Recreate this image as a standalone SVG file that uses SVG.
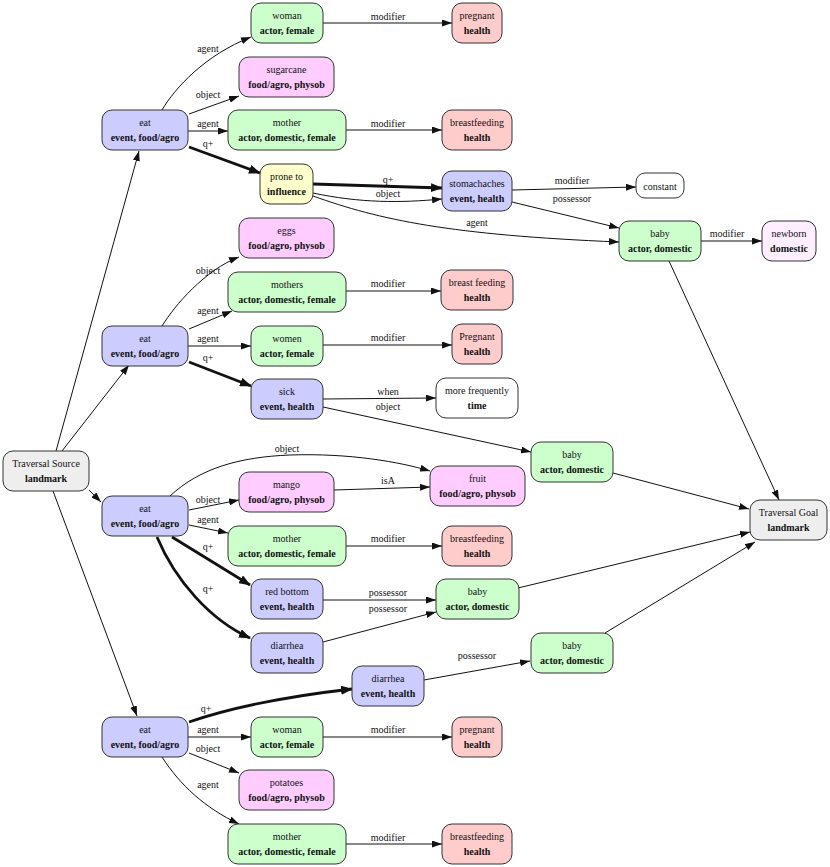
<svg xmlns="http://www.w3.org/2000/svg" width="830" height="867" viewBox="0 0 830 867" font-family="'Liberation Serif','Times New Roman',serif">
<style>
.n rect{stroke:#333;stroke-width:1}
.bl{fill:#ccccff}.gr{fill:#ccffcc}.mg{fill:#ffccff}.pk{fill:#ffcccc}.ye{fill:#ffffcc}.gy{fill:#eeeeee}.nb{fill:#ffeeff}.wh{fill:#ffffff}
text{font-family:"Liberation Serif","Times New Roman",serif;font-size:10px;text-anchor:middle;fill:#111}
.b{font-weight:bold}
.e path{fill:none;stroke:#111;stroke-width:1;marker-end:url(#a)}
.e path.t{stroke-width:2.8;marker-end:url(#at)}
</style>
<defs>
<marker id="a" viewBox="0 0 10 7" refX="10" refY="3.5" markerWidth="10" markerHeight="7" markerUnits="userSpaceOnUse" orient="auto"><path d="M0,0L10,3.5L0,7z" fill="#111"/></marker>
<marker id="at" viewBox="0 0 12 9" refX="11" refY="4.5" markerWidth="12" markerHeight="9" markerUnits="userSpaceOnUse" orient="auto"><path d="M0,0L12,4.5L0,9z" fill="#111"/></marker>
</defs>
<g id="connectors" class="e">
<path d="M56,451L139,151"/>
<path d="M62,451L129,365"/>
<path d="M89,490L101,502"/>
<path d="M53,491L137,716"/>
<path d="M162,110C175,88 205,55 251,37"/>
<path d="M189,114L239,96"/>
<path d="M188,131L228,131"/>
<path class="t" d="M189,147L260,173"/>
<path d="M323,23L452,23"/>
<path d="M346,130L442,130"/>
<path class="t" d="M313,184L442,188"/>
<path d="M313,193C360,203 400,203 442,199"/>
<path d="M313,196C380,220 450,235 619,242"/>
<path d="M512,190L636,187"/>
<path d="M512,202L619,228"/>
<path d="M701,241L762,241"/>
<path d="M669,261L779,500"/>
<path d="M162,326C175,305 205,270 239,257"/>
<path d="M189,329L232,311"/>
<path d="M188,346L251,346"/>
<path class="t" d="M189,362L251,386"/>
<path d="M346,291L441,291"/>
<path d="M323,345L452,345"/>
<path d="M323,399L436,398"/>
<path d="M323,407L531,452"/>
<path d="M613,473L749,509"/>
<path d="M170,496C200,468 240,457 290,455C350,453 400,462 430,471"/>
<path d="M189,510L239,500"/>
<path d="M189,525L228,533"/>
<path class="t" d="M172,537L250,585"/>
<path class="t" d="M157,537C175,580 210,620 250,638"/>
<path d="M334,490L430,487"/>
<path d="M346,546L442,546"/>
<path d="M323,600L436,600"/>
<path d="M323,642L436,612"/>
<path d="M518,588L750,532"/>
<path d="M605,633L755,542"/>
<path d="M424,680L530,661"/>
<path class="t" d="M189,722C230,708 290,696 352,689"/>
<path d="M188,737L251,737"/>
<path d="M189,753L239,773"/>
<path d="M162,757C180,785 205,808 239,824"/>
<path d="M323,737L452,737"/>
<path d="M346,844L442,844"/>
</g>
<g id="edge-labels">
<text x="208" y="52">agent</text>
<text x="208" y="98">object</text>
<text x="208" y="127">agent</text>
<text x="208" y="147">q+</text>
<text x="388" y="20">modifier</text>
<text x="388" y="127">modifier</text>
<text x="388" y="183">q+</text>
<text x="388" y="197">object</text>
<text x="477" y="226">agent</text>
<text x="572" y="184">modifier</text>
<text x="572" y="202">possessor</text>
<text x="727" y="237">modifier</text>
<text x="208" y="274">object</text>
<text x="208" y="314">agent</text>
<text x="208" y="342">agent</text>
<text x="208" y="361">q+</text>
<text x="388" y="287">modifier</text>
<text x="388" y="341">modifier</text>
<text x="388" y="395">when</text>
<text x="388" y="410">object</text>
<text x="287" y="452">object</text>
<text x="208" y="503">object</text>
<text x="208" y="523">agent</text>
<text x="208" y="550">q+</text>
<text x="208" y="592">q+</text>
<text x="388" y="484">isA</text>
<text x="388" y="542">modifier</text>
<text x="388" y="596">possessor</text>
<text x="388" y="612">possessor</text>
<text x="477" y="659">possessor</text>
<text x="206" y="712">q+</text>
<text x="208" y="733">agent</text>
<text x="208" y="752">object</text>
<text x="208" y="788">agent</text>
<text x="388" y="733">modifier</text>
<text x="388" y="841">modifier</text>
</g>
<g id="source" class="n"><rect class="gy" x="3" y="451" width="86" height="40" rx="10"/><text x="46" y="466.5">Traversal Source</text><text class="b" x="46" y="481.5">landmark</text></g>
<g id="goal" class="n"><rect class="gy" x="750" y="500" width="77" height="40" rx="10"/><text x="788.5" y="515.5">Traversal Goal</text><text class="b" x="788.5" y="530.5">landmark</text></g>
<g id="eat1" class="n"><rect class="bl" x="102" y="110" width="86" height="40" rx="10"/><text x="145" y="125.5">eat</text><text class="b" x="145" y="140.5">event, food/agro</text></g>
<g id="eat2" class="n"><rect class="bl" x="102" y="326" width="86" height="40" rx="10"/><text x="145" y="341.5">eat</text><text class="b" x="145" y="356.5">event, food/agro</text></g>
<g id="eat3" class="n"><rect class="bl" x="102" y="496" width="86" height="40" rx="10"/><text x="145" y="511.5">eat</text><text class="b" x="145" y="526.5">event, food/agro</text></g>
<g id="eat4" class="n"><rect class="bl" x="102" y="717" width="86" height="40" rx="10"/><text x="145" y="732.5">eat</text><text class="b" x="145" y="747.5">event, food/agro</text></g>
<g id="woman1" class="n"><rect class="gr" x="251" y="3" width="72" height="40" rx="10"/><text x="287" y="18.5">woman</text><text class="b" x="287" y="33.5">actor, female</text></g>
<g id="pregnant1" class="n"><rect class="pk" x="452" y="3" width="50" height="40" rx="10"/><text x="477" y="18.5">pregnant</text><text class="b" x="477" y="33.5">health</text></g>
<g id="sugarcane" class="n"><rect class="mg" x="239" y="57" width="95" height="40" rx="10"/><text x="286.5" y="72.5">sugarcane</text><text class="b" x="286.5" y="87.5">food/agro, physob</text></g>
<g id="mother1" class="n"><rect class="gr" x="228" y="110" width="118" height="40" rx="10"/><text x="287" y="125.5">mother</text><text class="b" x="287" y="140.5">actor, domestic, female</text></g>
<g id="breastfeeding1" class="n"><rect class="pk" x="442" y="110" width="70" height="40" rx="10"/><text x="477" y="125.5">breastfeeding</text><text class="b" x="477" y="140.5">health</text></g>
<g id="prone" class="n"><rect class="ye" x="260" y="164" width="53" height="40" rx="10"/><text x="286.5" y="179.5">prone to</text><text class="b" x="286.5" y="194.5">influence</text></g>
<g id="stomachaches" class="n"><rect class="bl" x="442" y="171" width="70" height="40" rx="10"/><text x="477" y="186.5">stomachaches</text><text class="b" x="477" y="201.5">event, health</text></g>
<g id="constant" class="n"><rect class="wh" x="636" y="173" width="48" height="25" rx="9"/><text x="660" y="189.5">constant</text></g>
<g id="baby1" class="n"><rect class="gr" x="619" y="221" width="82" height="40" rx="10"/><text x="660" y="236.5">baby</text><text class="b" x="660" y="251.5">actor, domestic</text></g>
<g id="newborn" class="n"><rect class="nb" x="762" y="221" width="54" height="40" rx="10"/><text x="789" y="236.5">newborn</text><text class="b" x="789" y="251.5">domestic</text></g>
<g id="eggs" class="n"><rect class="mg" x="239" y="218" width="95" height="40" rx="10"/><text x="286.5" y="233.5">eggs</text><text class="b" x="286.5" y="248.5">food/agro, physob</text></g>
<g id="mothers" class="n"><rect class="gr" x="228" y="272" width="118" height="40" rx="10"/><text x="287" y="287.5">mothers</text><text class="b" x="287" y="302.5">actor, domestic, female</text></g>
<g id="breastfeeding2" class="n"><rect class="pk" x="441" y="270" width="72" height="40" rx="10"/><text x="477" y="285.5">breast feeding</text><text class="b" x="477" y="300.5">health</text></g>
<g id="women" class="n"><rect class="gr" x="251" y="326" width="72" height="40" rx="10"/><text x="287" y="341.5">women</text><text class="b" x="287" y="356.5">actor, female</text></g>
<g id="pregnant2" class="n"><rect class="pk" x="452" y="324" width="50" height="40" rx="10"/><text x="477" y="339.5">Pregnant</text><text class="b" x="477" y="354.5">health</text></g>
<g id="sick" class="n"><rect class="bl" x="251" y="379" width="72" height="40" rx="10"/><text x="287" y="394.5">sick</text><text class="b" x="287" y="409.5">event, health</text></g>
<g id="morefrequently" class="n"><rect class="wh" x="436" y="378" width="82" height="40" rx="10"/><text x="477" y="393.5">more frequently</text><text class="b" x="477" y="408.5">time</text></g>
<g id="baby2" class="n"><rect class="gr" x="531" y="442" width="82" height="40" rx="10"/><text x="572" y="457.5">baby</text><text class="b" x="572" y="472.5">actor, domestic</text></g>
<g id="mango" class="n"><rect class="mg" x="239" y="472" width="95" height="40" rx="10"/><text x="286.5" y="487.5">mango</text><text class="b" x="286.5" y="502.5">food/agro, physob</text></g>
<g id="fruit" class="n"><rect class="mg" x="430" y="466" width="95" height="40" rx="10"/><text x="477.5" y="481.5">fruit</text><text class="b" x="477.5" y="496.5">food/agro, physob</text></g>
<g id="mother3" class="n"><rect class="gr" x="228" y="526" width="118" height="40" rx="10"/><text x="287" y="541.5">mother</text><text class="b" x="287" y="556.5">actor, domestic, female</text></g>
<g id="breastfeeding3" class="n"><rect class="pk" x="442" y="526" width="70" height="40" rx="10"/><text x="477" y="541.5">breastfeeding</text><text class="b" x="477" y="556.5">health</text></g>
<g id="redbottom" class="n"><rect class="bl" x="251" y="579" width="72" height="40" rx="10"/><text x="287" y="594.5">red bottom</text><text class="b" x="287" y="609.5">event, health</text></g>
<g id="baby3" class="n"><rect class="gr" x="436" y="579" width="83" height="40" rx="10"/><text x="477.5" y="594.5">baby</text><text class="b" x="477.5" y="609.5">actor, domestic</text></g>
<g id="diarrhea1" class="n"><rect class="bl" x="251" y="633" width="72" height="40" rx="10"/><text x="287" y="648.5">diarrhea</text><text class="b" x="287" y="663.5">event, health</text></g>
<g id="baby4" class="n"><rect class="gr" x="531" y="633" width="82" height="40" rx="10"/><text x="572" y="648.5">baby</text><text class="b" x="572" y="663.5">actor, domestic</text></g>
<g id="diarrhea2" class="n"><rect class="bl" x="352" y="666" width="72" height="40" rx="10"/><text x="388" y="681.5">diarrhea</text><text class="b" x="388" y="696.5">event, health</text></g>
<g id="woman4" class="n"><rect class="gr" x="251" y="717" width="72" height="40" rx="10"/><text x="287" y="732.5">woman</text><text class="b" x="287" y="747.5">actor, female</text></g>
<g id="pregnant4" class="n"><rect class="pk" x="452" y="717" width="50" height="40" rx="10"/><text x="477" y="732.5">pregnant</text><text class="b" x="477" y="747.5">health</text></g>
<g id="potatoes" class="n"><rect class="mg" x="239" y="770" width="95" height="40" rx="10"/><text x="286.5" y="785.5">potatoes</text><text class="b" x="286.5" y="800.5">food/agro, physob</text></g>
<g id="mother4" class="n"><rect class="gr" x="228" y="824" width="118" height="40" rx="10"/><text x="287" y="839.5">mother</text><text class="b" x="287" y="854.5">actor, domestic, female</text></g>
<g id="breastfeeding4" class="n"><rect class="pk" x="442" y="824" width="70" height="40" rx="10"/><text x="477" y="839.5">breastfeeding</text><text class="b" x="477" y="854.5">health</text></g>
</svg>
